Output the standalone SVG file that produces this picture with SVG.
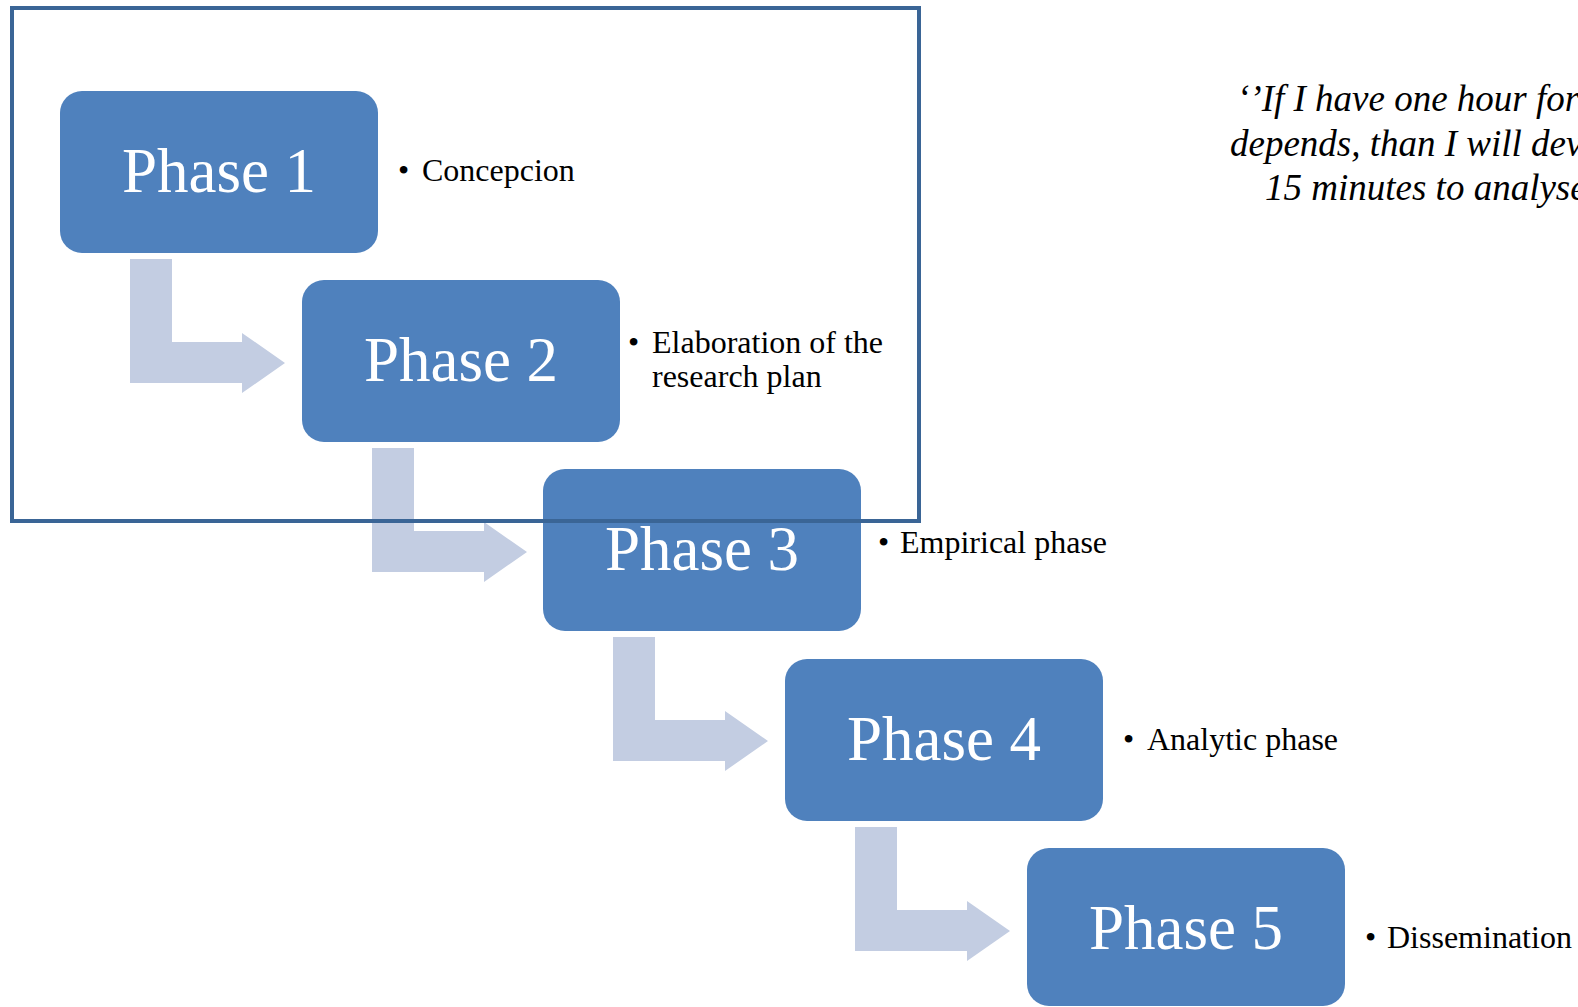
<svg xmlns="http://www.w3.org/2000/svg" width="1578" height="1007" viewBox="0 0 1578 1007">
<style>
.box{fill:#4f81bd;}
.arrow{fill:#c3cde2;}
.title{font-family:"Liberation Serif","Times New Roman",serif;font-size:63px;fill:#ffffff;text-anchor:middle;}
.lbl{font-family:"Liberation Serif","Times New Roman",serif;font-size:32px;fill:#000000;}
.quote{font-family:"Liberation Serif","Times New Roman",serif;font-size:37px;font-style:italic;fill:#000000;}
.frame{fill:none;stroke:#3a6596;stroke-width:4;}
</style>
<rect width="1578" height="1007" fill="#ffffff"/>
<g id="connectors">
<path class="arrow" d="M130,259 H172 V342 H242 V333 L285,363 L242,393 V383 H130 Z"/>
<path class="arrow" d="M372,448 H414 V531 H484 V522 L527,552 L484,582 V572 H372 Z"/>
<path class="arrow" d="M613,637 H655 V720 H725 V711 L768,741 L725,771 V761 H613 Z"/>
<path class="arrow" d="M855,827 H897 V910 H967 V901 L1010,931 L967,961 V951 H855 Z"/>
</g>
<g id="phase1">
<rect class="box" x="60" y="91" width="318" height="162" rx="22"/>
<text class="title" x="219" y="192">Phase 1</text>
<text class="lbl" x="398" y="181">•</text>
<text class="lbl" x="422" y="181">Concepcion</text>
</g>
<g id="phase2">
<rect class="box" x="302" y="280" width="318" height="162" rx="22"/>
<text class="title" x="461" y="381">Phase 2</text>
<text class="lbl" x="628" y="353">•</text>
<text class="lbl" x="652" y="353">Elaboration of the</text>
<text class="lbl" x="652" y="387">research plan</text>
</g>
<g id="phase3">
<rect class="box" x="543" y="469" width="318" height="162" rx="22"/>
<text class="title" x="702" y="570">Phase 3</text>
<text class="lbl" x="878" y="553">•</text>
<text class="lbl" x="900" y="553">Empirical phase</text>
</g>
<g id="phase4">
<rect class="box" x="785" y="659" width="318" height="162" rx="22"/>
<text class="title" x="944" y="760">Phase 4</text>
<text class="lbl" x="1123" y="750">•</text>
<text class="lbl" x="1147" y="750">Analytic phase</text>
</g>
<g id="phase5">
<rect class="box" x="1027" y="848" width="318" height="158" rx="22"/>
<text class="title" x="1186" y="949">Phase 5</text>
<text class="lbl" x="1365" y="948">•</text>
<text class="lbl" x="1387" y="948">Dissemination</text>
</g>
<g id="frame">
<rect class="frame" x="12" y="8" width="907" height="513"/>
</g>
<g id="quote">
<text class="quote" x="1237" y="111">‘’If I have one hour for</text>
<text class="quote" x="1230" y="156">depends, than I will dev</text>
<text class="quote" x="1265" y="200">15 minutes to analyse</text>
</g>
</svg>
